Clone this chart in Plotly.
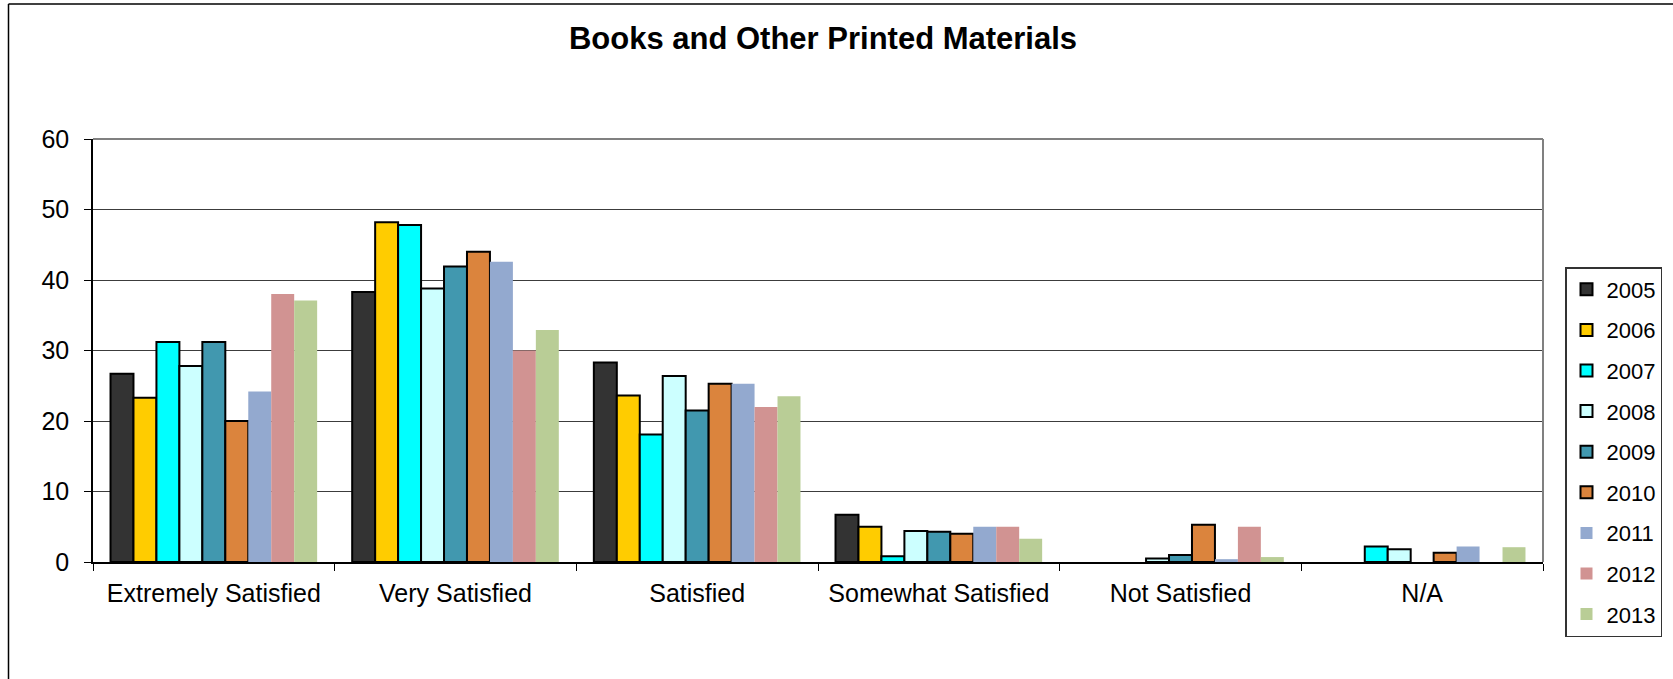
import plotly.graph_objects as go

# Survey ratings for "Books and Other Printed Materials", percent by year
categories = ["Extremely Satisfied", "Very Satisfied", "Satisfied",
              "Somewhat Satisfied", "Not Satisfied", "N/A"]
years = ["2005", "2006", "2007", "2008", "2009", "2010", "2011", "2012", "2013"]

v2005 = [26.7, 38.3, 28.3, 6.7, 0.0, 0.0]
v2006 = [23.3, 48.2, 23.6, 5.0, 0.0, 0.0]
v2007 = [31.2, 47.8, 18.1, 0.8, 0.0, 2.2]
v2008 = [27.8, 38.8, 26.4, 4.4, 0.5, 1.8]
v2009 = [31.2, 41.9, 21.5, 4.3, 1.0, 0.0]
v2010 = [20.0, 44.0, 25.3, 4.0, 5.3, 1.3]
v2011 = [24.2, 42.6, 25.3, 5.0, 0.4, 2.2]
v2012 = [38.0, 30.0, 22.0, 5.0, 5.0, 0.0]
v2013 = [37.1, 32.9, 23.5, 3.3, 0.7, 2.1]

series = [v2005, v2006, v2007, v2008, v2009, v2010, v2011, v2012, v2013]
colors = ["#333333", "#FFCC00", "#00FFFF", "#CCFFFF", "#4198AF",
          "#DB843D", "#93A9CF", "#D19392", "#B9CD96"]
outlined = [True, True, True, True, True, True, False, False, False]

FONT = "Liberation Sans, Arial, sans-serif"

W, H = 1673, 679
L, R, T, B = 93, 130, 139, 117
pw, ph = W - L - R, H - T - B

fig = go.Figure()
for name, vals, col, edge in zip(years, series, colors, outlined):
    # empty categories get no bar at all (no outline stub on the axis)
    shown = [v if v > 0 else None for v in vals]
    fig.add_trace(go.Bar(
        name=name, x=categories, y=shown,
        marker=dict(color=col,
                    line=dict(color="#000000" if edge else col,
                              width=2 if edge else 0)),
        legendgroup=name,
    ))

fig.update_layout(
    width=W, height=H,
    margin=dict(l=L, r=R, t=T, b=B, autoexpand=False),
    paper_bgcolor="white", plot_bgcolor="white",
    barmode="group", bargap=0.145, bargroupgap=0,
    font=dict(family=FONT, color="#000000"),
    title=dict(text="Books and Other Printed Materials",
               font=dict(family=FONT, size=31, weight="bold", color="#000000"),
               x=823 / W, xref="container", xanchor="center",
               y=1 - 38 / H, yref="container", yanchor="middle"),
    showlegend=True,
    legend=dict(x=(1565 - L) / pw, xanchor="left",
                y=(H - B - 267) / ph, yanchor="top",
                bordercolor="#333333", borderwidth=1.5, bgcolor="white",
                font=dict(family=FONT, size=22, color="#000000"),
                tracegroupgap=9, itemwidth=30),
    xaxis=dict(type="category", showgrid=False, showline=True,
               linecolor="#000000", linewidth=1.5,
               ticks="outside", ticklen=7, tickcolor="#000000", tickwidth=1,
               tickson="boundaries",
               tickfont=dict(family=FONT, size=25, color="#000000"),
               ticklabelstandoff=8),
    yaxis=dict(range=[0, 60], dtick=10, showgrid=True,
               gridcolor="#3c3c3c", gridwidth=1,
               showline=True, linecolor="#000000", linewidth=1.5,
               ticks="outside", ticklen=7, tickcolor="#000000", tickwidth=1,
               tickfont=dict(family=FONT, size=25, color="#000000"),
               ticklabelstandoff=10, zeroline=False),
    shapes=[
        # grey frame of the plot area (top and right edges)
        dict(type="line", xref="paper", yref="paper", x0=0, x1=1, y0=1, y1=1,
             line=dict(color="#808080", width=2), layer="above"),
        dict(type="line", xref="paper", yref="paper", x0=1, x1=1, y0=0, y1=1,
             line=dict(color="#808080", width=2), layer="above"),
        # outer chart border (top and left edges)
        dict(type="line", xref="paper", yref="paper",
             x0=(8.5 - L) / pw, x1=(W - L) / pw,
             y0=(H - B - 4) / ph, y1=(H - B - 4) / ph,
             line=dict(color="#000000", width=1.5)),
        dict(type="line", xref="paper", yref="paper",
             x0=(8.5 - L) / pw, x1=(8.5 - L) / pw,
             y0=(H - B - 4) / ph, y1=-B / ph,
             line=dict(color="#000000", width=1.5)),
    ],
)

fig.write_html("out.html")
